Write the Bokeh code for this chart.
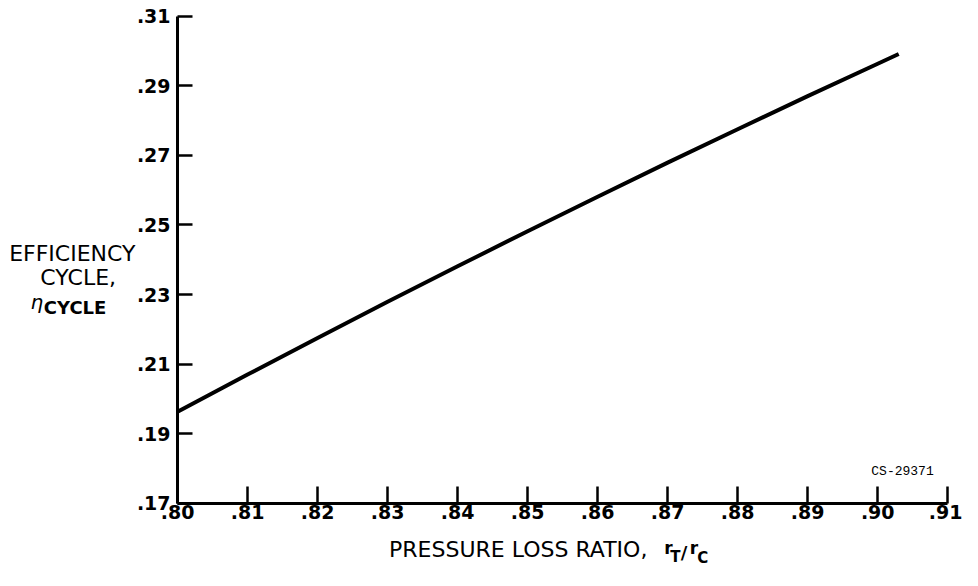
from bokeh.plotting import figure
from bokeh.models import Label, Range1d, FixedTicker
from bokeh.embed import file_html
from bokeh.resources import INLINE

# ---- data ----
ratio = [0.800, 0.810, 0.820, 0.830, 0.840, 0.850, 0.860, 0.870, 0.880, 0.890, 0.900, 0.903]
eff = [0.1963, 0.2070, 0.2175, 0.2279, 0.2381, 0.2482, 0.2581, 0.2679, 0.2775, 0.2870, 0.2963, 0.2991]
x_ticks = [0.80, 0.81, 0.82, 0.83, 0.84, 0.85, 0.86, 0.87, 0.88, 0.89, 0.90, 0.91]
x_tick_labels = [".80", ".81", ".82", ".83", ".84", ".85", ".86", ".87", ".88", ".89", ".90", ".91"]
y_ticks = [0.17, 0.19, 0.21, 0.23, 0.25, 0.27, 0.29, 0.31]
y_tick_labels = [".17", ".19", ".21", ".23", ".25", ".27", ".29", ".31"]

# ---- layout: the frame covers the whole canvas, axes sit at fixed locations ----
W, H = 962, 570
REF_W, REF_H = 978, 586
PX_PER_X = 7118.0      # reference pixels per unit of x
PX_PER_Y = 3578.6      # reference pixels per unit of y
X_AT_0 = 0.80 - 180 / PX_PER_X
Y_AT_0 = 0.17 + 517 / PX_PER_Y


def rx(px):
    return X_AT_0 + px / PX_PER_X


def ry(py):
    return Y_AT_0 - py / PX_PER_Y


p = figure(width=W, height=H, output_backend="svg", toolbar_location=None,
           x_range=Range1d(rx(0), rx(REF_W)), y_range=Range1d(ry(REF_H), ry(0)),
           min_border=0, min_border_left=0, min_border_right=0,
           min_border_top=0, min_border_bottom=0)
p.outline_line_color = None
p.grid.visible = False
p.background_fill_color = "white"
p.border_fill_color = "white"

p.line(ratio, eff, line_width=4, line_color="black")

FONT = "DejaVu Sans"

xa = p.xaxis[0]
ya = p.yaxis[0]
xa.fixed_location = y_ticks[0]
xa.bounds = (x_ticks[0], x_ticks[-1])
ya.fixed_location = x_ticks[0]
ya.bounds = (y_ticks[0], y_ticks[-1])

for ax, ticks, labels in ((xa, x_ticks, x_tick_labels), (ya, y_ticks, y_tick_labels)):
    ax.ticker = FixedTicker(ticks=ticks)
    ax.major_label_overrides = {t: l for t, l in zip(ticks, labels)}
    ax.axis_line_width = 3
    ax.axis_line_color = "black"
    ax.major_tick_line_width = 2.5
    ax.major_tick_line_color = "black"
    ax.major_tick_out = 0
    ax.minor_tick_line_color = None
    ax.major_label_text_font = FONT
    ax.major_label_text_font_style = "bold"
    ax.major_label_text_font_size = "19px"
    ax.major_label_text_color = "black"

xa.major_tick_in = 17
ya.major_tick_in = 15
xa.major_label_standoff = 2
ya.major_label_standoff = 7


def add_text(txt, px, py, size, align="center", style="normal", font=FONT):
    p.add_layout(Label(x=rx(px), y=ry(py), text=txt, text_font=font,
                       text_font_size=size, text_font_style=style, text_align=align,
                       text_baseline="middle", text_color="black"))


# y-axis title
add_text("EFFICIENCY", 73, 260, "22px")
add_text("CYCLE,", 79, 285, "22px")
add_text("\u03b7", 37, 310, "20px", style="italic")
add_text("CYCLE", 44, 316, "18px", align="left", style="bold")

# x-axis title
add_text("PRESSURE LOSS RATIO,", 395, 564, "22px", align="left")
add_text("r", 679, 563, "17px", style="bold")
add_text("T", 686, 572, "15px", style="bold")
add_text("/", 695, 568, "18px", style="bold")
add_text("r", 705, 563, "17px", style="bold")
add_text("C", 714, 573, "15px", style="bold")

# figure number
add_text("CS-29371", 917, 484, "13px", font="Liberation Mono")

open("out.html", "w").write(file_html(p, INLINE))
